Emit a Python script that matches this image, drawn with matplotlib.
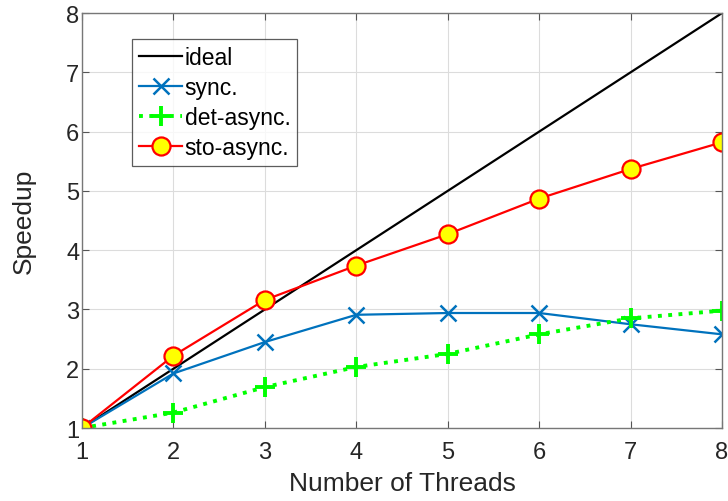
import matplotlib.pyplot as plt

plt.rcParams['font.family'] = ['Liberation Sans', 'DejaVu Sans']

threads = [1, 2, 3, 4, 5, 6, 7, 8]
ideal = [1, 2, 3, 4, 5, 6, 7, 8]
sync = [1.0, 1.92, 2.45, 2.91, 2.94, 2.94, 2.75, 2.58]
det_async = [1.0, 1.26, 1.69, 2.03, 2.25, 2.58, 2.85, 2.98]
sto_async = [1.0, 2.22, 3.16, 3.74, 4.27, 4.87, 5.37, 5.82]

fig = plt.figure(figsize=(7.28, 5.02), dpi=100)
ax = fig.add_axes([0.1126, 0.1454, 0.8792, 0.8266])

ax.plot(threads, ideal, color='black', lw=1.6, label='ideal')
ax.plot(threads, sync, color=(0, 0.447, 0.741), lw=1.6, marker='x',
        markersize=12, markeredgewidth=1.8, label='sync.')
ax.plot(threads, det_async, color=(0, 1, 0), lw=2.8, ls=':', marker='+',
        markersize=15, markeredgewidth=2.8, label='det-async.')
ax.plot(threads, sto_async, color='red', lw=1.6, marker='o', markersize=13,
        markerfacecolor='yellow', markeredgecolor='red', markeredgewidth=1.6,
        label='sto-async.')

ax.set_xlim(1, 8)
ax.set_ylim(1, 8)
ax.set_xticks(threads)
ax.set_yticks(range(1, 9))
ax.grid(True, color='#dcdcdc', lw=0.8)
ax.set_axisbelow(True)
ax.tick_params(direction='in', top=True, right=True, labelsize=17,
               color='#555555', labelcolor='#262626', length=5)
ax.tick_params(axis='x', pad=9)
ax.tick_params(axis='y', pad=2)
for s in ax.spines.values():
    s.set_color('#777777')
    s.set_linewidth(1.0)

ax.set_xlabel('Number of Threads', fontsize=19, color='#262626', labelpad=6)
ax.set_ylabel('Speedup', fontsize=19, color='#262626', labelpad=22)

leg = ax.legend(loc='upper left', bbox_to_anchor=(0.078, 0.937), fontsize=16.5,
                frameon=True, fancybox=False, handlelength=1.9,
                handletextpad=0.1, borderpad=0.3, labelspacing=0.3,
                borderaxespad=0)
leg.get_frame().set_edgecolor('#333333')
leg.get_frame().set_linewidth(0.9)

fig.savefig('out.png', dpi=100)
